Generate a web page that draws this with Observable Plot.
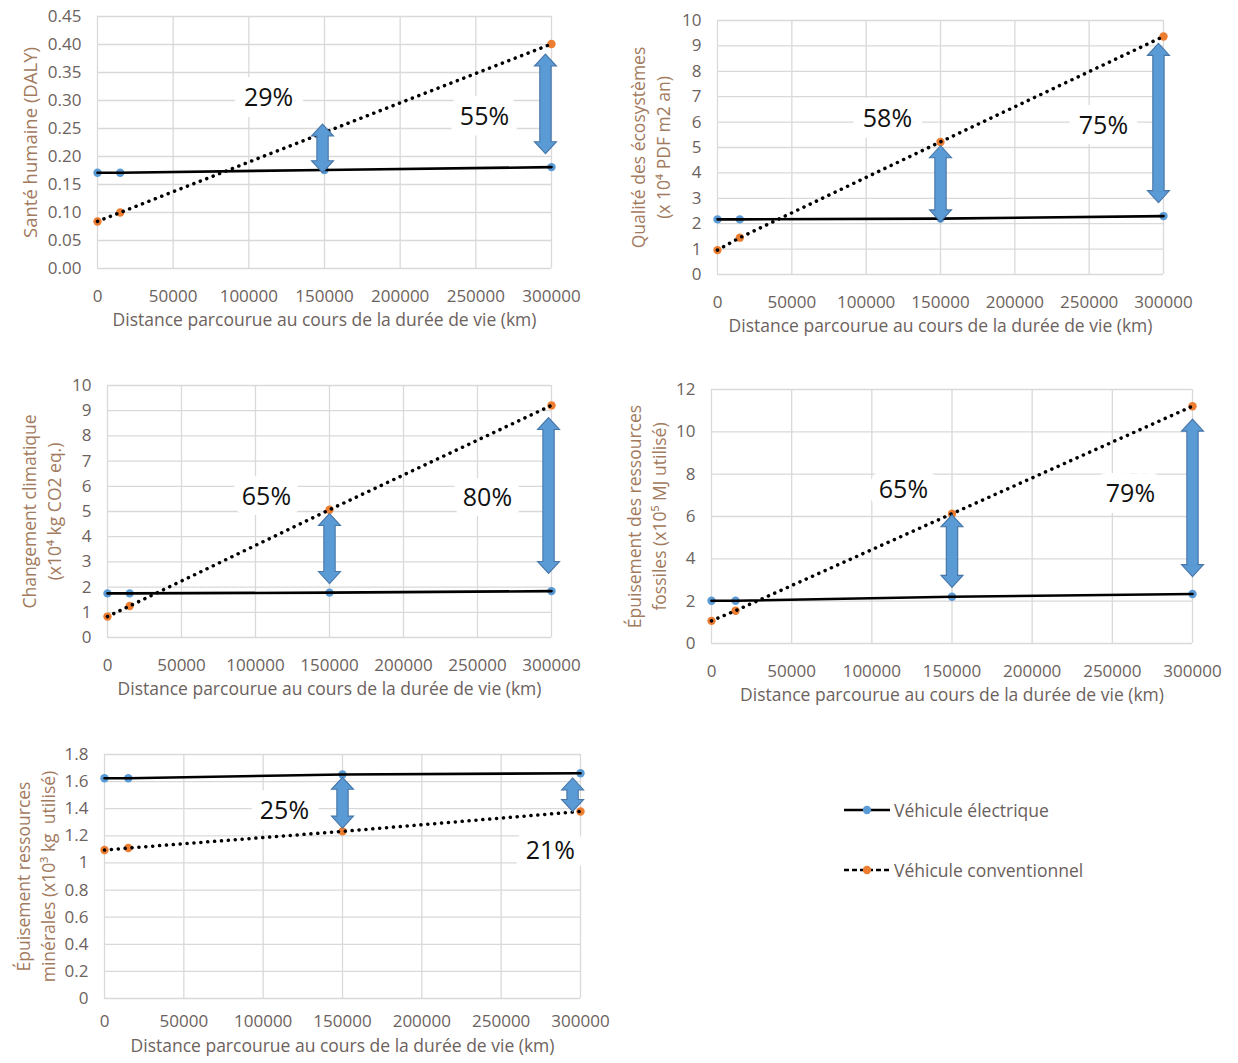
<!DOCTYPE html>
<html><head><meta charset="utf-8">
<script src="https://cdn.jsdelivr.net/npm/d3@7"></script>
<script src="https://cdn.jsdelivr.net/npm/@observablehq/plot@0.6"></script>
<style>
body{margin:0;background:#fff;}
#root{position:relative;width:1238px;height:1063px;font-family:"Open Sans",sans-serif;overflow:hidden;}
.panel{position:absolute;}
.leg{position:absolute;display:flex;align-items:center;font-family:"Open Sans",sans-serif;font-size:17.5px;color:#6a605b;}
.leg svg{margin-right:3px;}
</style></head><body><div id="root"></div>
<script>
// ---------- shared data ----------
const distances = [0, 15000, 150000, 300000];
const xTicks = [0, 50000, 100000, 150000, 200000, 250000, 300000];
const electricLabel = "Véhicule électrique";
const conventionalLabel = "Véhicule conventionnel";
const xTitle = "Distance parcourue au cours de la durée de vie (km)";

// ---------- panel 1 : santé humaine ----------
const santeTitle = "Santé humaine (DALY)";
const santeElectric = [0.171, 0.171, 0.176, 0.181];
const santeConventional = [0.084, 0.100, 0.243, 0.401];
const santeTicks = [0, 0.05, 0.10, 0.15, 0.20, 0.25, 0.30, 0.35, 0.40, 0.45];
const santeArrowX = [148700, 296000];
const santeArrowLow = [0.171, 0.205];
const santeArrowHigh = [0.258, 0.383];
const santePct = ["29%", "55%"];
const santePctX = [113000, 255700];
const santePctY = [0.304, 0.271];

// ---------- panel 2 : qualité des écosystèmes ----------
const ecoTitle = "Qualité des écosystèmes\n(x 10⁴ PDF m2 an)";
const ecoElectric = [2.17, 2.17, 2.20, 2.30];
const ecoConventional = [0.96, 1.45, 5.22, 9.37];
const ecoTicks = [0, 1, 2, 3, 4, 5, 6, 7, 8, 9, 10];
const ecoArrowX = [150000, 296600];
const ecoArrowLow = [2.07, 2.83];
const ecoArrowHigh = [5.07, 9.10];
const ecoPct = ["58%", "75%"];
const ecoPctX = [114300, 259600];
const ecoPctY = [6.14, 5.83];

// ---------- panel 3 : changement climatique ----------
const climTitle = "Changement climatique\n(x10⁴ kg CO2 eq.)";
const climElectric = [1.75, 1.75, 1.78, 1.84];
const climConventional = [0.83, 1.25, 5.07, 9.21];
const climTicks = [0, 1, 2, 3, 4, 5, 6, 7, 8, 9, 10];
const climArrowX = [150000, 298000];
const climArrowLow = [2.14, 2.54];
const climArrowHigh = [4.92, 8.73];
const climPct = ["65%", "80%"];
const climPctX = [107400, 256700];
const climPctY = [5.56, 5.52];

// ---------- panel 4 : ressources fossiles ----------
const fossTitle = "Épuisement des ressources\nfossiles (x10⁵ MJ utilisé)";
const fossElectric = [2.02, 2.02, 2.21, 2.34];
const fossConventional = [1.07, 1.55, 6.13, 11.21];
const fossTicks = [0, 2, 4, 6, 8, 10, 12];
const fossArrowX = [150000, 300000];
const fossArrowLow = [2.65, 3.16];
const fossArrowHigh = [6.08, 10.6];
const fossPct = ["65%", "79%"];
const fossPctX = [119700, 261300];
const fossPctY = [7.23, 7.04];

// ---------- panel 5 : ressources minérales ----------
const minTitle = "Épuisement ressources\nminérales (x10³ kg  utilisé)";
const minElectric = [1.625, 1.625, 1.652, 1.662];
const minConventional = [1.095, 1.11, 1.233, 1.38];
const minTicks = [0, 0.2, 0.4, 0.6, 0.8, 1, 1.2, 1.4, 1.6, 1.8];
const minArrowX = [150000, 295000];
const minArrowLow = [1.257, 1.38];
const minArrowHigh = [1.632, 1.627];
const minPct = ["25%", "21%"];
const minPctX = [113400, 281000];
const minPctY = [1.386, 1.09];

// ---------- styles / layout ----------
const BLUE = "#5b9bd5", BLUE_EDGE = "#4776a8", ORANGE = "#ed7d31", GRID = "#d9d9d9";
const TICK_COLOR = "#6c625d", YTITLE_COLOR = "#a27a5e";

// arrow head symbol: tip at the symbol origin, pointing up
const arrowHead = {
  draw(context) {
    context.moveTo(0, 0);
    context.lineTo(11, 12);
    context.lineTo(-11, 12);
    context.closePath();
  }
};

const panels = [
  {title: santeTitle, elec: santeElectric, conv: santeConventional, ticks: santeTicks, fmt: d3.format(".2f"),
   ax: santeArrowX, lo: santeArrowLow, hi: santeArrowHigh, pct: santePct, px: santePctX, py: santePctY,
   box: [0, 0, 605, 345], frame: [97, 551, 16, 268], titleDx: -69, titleSize: 18.5},
  {title: ecoTitle, elec: ecoElectric, conv: ecoConventional, ticks: ecoTicks, fmt: d3.format("d"),
   ax: ecoArrowX, lo: ecoArrowLow, hi: ecoArrowHigh, pct: ecoPct, px: ecoPctX, py: ecoPctY,
   box: [605, 0, 633, 350], frame: [717, 1163, 20, 274], titleDx: -68},
  {title: climTitle, elec: climElectric, conv: climConventional, ticks: climTicks, fmt: d3.format("d"),
   ax: climArrowX, lo: climArrowLow, hi: climArrowHigh, pct: climPct, px: climPctX, py: climPctY,
   box: [0, 360, 605, 350], frame: [107, 551, 385, 637], titleDx: -67},
  {title: fossTitle, elec: fossElectric, conv: fossConventional, ticks: fossTicks, fmt: d3.format("d"),
   ax: fossArrowX, lo: fossArrowLow, hi: fossArrowHigh, pct: fossPct, px: fossPctX, py: fossPctY,
   box: [605, 360, 633, 355], frame: [711, 1192, 389, 643], titleDx: -66},
  {title: minTitle, elec: minElectric, conv: minConventional, ticks: minTicks, fmt: d => String(d),
   ax: minArrowX, lo: minArrowLow, hi: minArrowHigh, pct: minPct, px: minPctX, py: minPctY,
   box: [0, 725, 620, 338], frame: [104, 580, 754, 998], titleDx: -70, xTitleDy: 53, xPad: 16}
];

const root = document.getElementById("root");

function buildPanel(p) {
  const [bl, bt, bw, bh] = p.box;
  const [fl, fr, ft, fb] = p.frame;
  const rows = distances.map((d, i) => ({x: d, e: p.elec[i], c: p.conv[i]}));
  const arrows = p.ax.map((x, i) => ({x, lo: p.lo[i], hi: p.hi[i]}));
  const labels = p.pct.map((t, i) => ({t, x: p.px[i], y: p.py[i]}));
  const yMax = p.ticks[p.ticks.length - 1];
  const chart = Plot.plot({
    width: bw, height: bh,
    marginLeft: fl - bl, marginRight: bl + bw - fr, marginTop: ft - bt, marginBottom: bt + bh - fb,
    style: {background: "transparent", fontFamily: "'Open Sans', sans-serif", fontSize: "17px", color: TICK_COLOR},
    x: {domain: [0, 300000], ticks: xTicks, tickFormat: d3.format("d"), tickSize: 0, tickPadding: p.xPad || 21, label: null},
    y: {domain: [0, yMax], ticks: p.ticks, tickFormat: p.fmt, tickSize: 0, tickPadding: 16, label: null},
    marks: [
      Plot.ruleX(xTicks, {stroke: GRID, strokeWidth: 1.3}),
      Plot.ruleY(p.ticks, {stroke: GRID, strokeWidth: 1.3}),
      Plot.text(labels, {x: "x", y: "y", text: "t", fontSize: 25, fill: "white", stroke: "white", strokeWidth: 22}),
      Plot.dot(rows, {x: "x", y: "e", r: 4.2, fill: BLUE}),
      Plot.dot(rows, {x: "x", y: "c", r: 4.2, fill: ORANGE}),
      Plot.line(rows, {x: "x", y: "e", stroke: "#000", strokeWidth: 2.6}),
      Plot.line(rows, {x: "x", y: "c", stroke: "#000", strokeWidth: 3.5, strokeDasharray: "0.1,6.8", strokeLinecap: "round"}),
      Plot.text(labels, {x: "x", y: "y", text: "t", fontSize: 25, fill: "#111"}),
      // double-headed arrows
      Plot.ruleX(arrows, {x: "x", y1: "hi", y2: "lo", stroke: BLUE_EDGE, strokeWidth: 12.5, insetTop: 11.5, insetBottom: 11.5}),
      Plot.dot(arrows, {x: "x", y: "hi", symbol: arrowHead, r: 8, fill: BLUE, stroke: BLUE_EDGE, strokeWidth: 1.1}),
      Plot.dot(arrows, {x: "x", y: "lo", symbol: arrowHead, r: 8, rotate: 180, fill: BLUE, stroke: BLUE_EDGE, strokeWidth: 1.1}),
      Plot.ruleX(arrows, {x: "x", y1: "hi", y2: "lo", stroke: BLUE, strokeWidth: 10.2, insetTop: 10.5, insetBottom: 10.5}),
      // axis titles
      Plot.text([p.title], {text: d => d, frameAnchor: "left", textAnchor: "middle", lineAnchor: "middle", dx: p.titleDx, rotate: -90, fontSize: p.titleSize || 17.5, lineHeight: 1.4, fill: YTITLE_COLOR}),
      Plot.text([xTitle], {text: d => d, frameAnchor: "bottom", textAnchor: "middle", dy: p.xTitleDy || 57, fontSize: 17.5, fill: TICK_COLOR})
    ]
  });
  const div = document.createElement("div");
  div.className = "panel";
  div.style.left = bl + "px"; div.style.top = bt + "px";
  div.appendChild(chart);
  root.appendChild(div);
}
panels.forEach(buildPanel);

// ---------- legend ----------
function legendItem(label, top, color, dashed) {
  const d = document.createElement("div");
  d.className = "leg";
  d.style.left = "843px"; d.style.top = top + "px";
  const dash = dashed ? ' stroke-dasharray="5,3"' : "";
  d.innerHTML = `<svg width="48" height="20"><line x1="1" x2="47" y1="10" y2="10" stroke="#000" stroke-width="2.5"${dash}/><circle cx="24" cy="10" r="4.2" fill="${color}"/></svg>`;
  const s = document.createElement("span");
  s.textContent = label;
  d.appendChild(s);
  root.appendChild(d);
}
legendItem(electricLabel, 798, BLUE, false);
legendItem(conventionalLabel, 858, ORANGE, true);
</script>
</body></html>
